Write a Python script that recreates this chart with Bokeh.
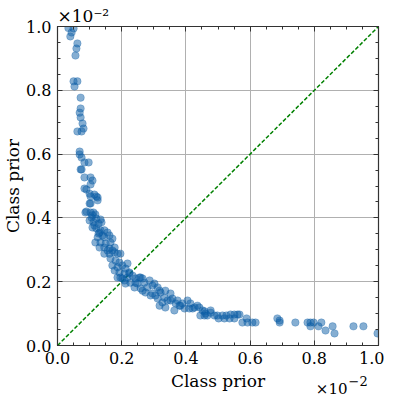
from bokeh.plotting import figure
from bokeh.models import Range1d, LinearAxis, FixedTicker, Label, PrintfTickFormatter
from bokeh.embed import file_html
from bokeh.resources import INLINE

# scatter values (units of 1e-2)
xs = [0.034, 0.044, 0.050, 0.040, 0.062, 0.059, 0.056, 0.050, 0.062, 0.053,
      0.072, 0.072, 0.069, 0.072, 0.078, 0.081, 0.062, 0.075, 0.069, 0.069,
      0.075, 0.084, 0.097, 0.072, 0.075, 0.084, 0.103, 0.109, 0.103, 0.084,
      0.090, 0.100, 0.115, 0.125, 0.103, 0.121, 0.125, 0.103, 0.100, 0.090,
      0.103, 0.112, 0.118, 0.106, 0.121, 0.134, 0.112, 0.128, 0.137, 0.115,
      0.109, 0.121, 0.134, 0.146, 0.156, 0.128, 0.140, 0.162, 0.171, 0.087,
      0.109, 0.100, 0.131, 0.125, 0.146, 0.118, 0.134, 0.150, 0.165, 0.131,
      0.146, 0.162, 0.178, 0.146, 0.162, 0.178, 0.187, 0.165, 0.181, 0.193,
      0.171, 0.187, 0.202, 0.212, 0.178, 0.193, 0.209, 0.224, 0.187, 0.202,
      0.218, 0.234, 0.212, 0.227, 0.243, 0.259, 0.249, 0.271, 0.287, 0.240,
      0.259, 0.280, 0.296, 0.312, 0.274, 0.296, 0.321, 0.336, 0.352, 0.312,
      0.333, 0.352, 0.374, 0.380, 0.396, 0.411, 0.427, 0.389, 0.414, 0.436,
      0.156, 0.171, 0.196, 0.218, 0.224, 0.196, 0.209, 0.255, 0.265, 0.243,
      0.302, 0.265, 0.318, 0.290, 0.305, 0.343, 0.358, 0.318, 0.336, 0.368,
      0.405, 0.364, 0.421, 0.452, 0.461, 0.477, 0.489, 0.327, 0.383, 0.442,
      0.458, 0.458, 0.477, 0.502, 0.514, 0.520, 0.526, 0.539, 0.551, 0.551,
      0.561, 0.567, 0.576, 0.589, 0.592, 0.607, 0.617, 0.685, 0.692, 0.741,
      0.779, 0.788, 0.798, 0.813, 0.822, 0.835, 0.857, 0.863, 0.922, 0.953,
      0.997, 0.498, 0.536, 0.445, 0.467, 0.788, 0.692]
ys = [0.995, 0.981, 0.994, 0.969, 0.947, 0.931, 0.909, 0.828, 0.828, 0.812,
      0.777, 0.743, 0.730, 0.715, 0.696, 0.680, 0.671, 0.671, 0.608, 0.599,
      0.589, 0.574, 0.574, 0.552, 0.552, 0.527, 0.527, 0.517, 0.505, 0.492,
      0.489, 0.476, 0.473, 0.464, 0.467, 0.467, 0.455, 0.445, 0.445, 0.420,
      0.417, 0.417, 0.411, 0.401, 0.398, 0.395, 0.386, 0.382, 0.386, 0.376,
      0.370, 0.367, 0.361, 0.361, 0.354, 0.351, 0.345, 0.345, 0.335, 0.417,
      0.408, 0.392, 0.354, 0.339, 0.339, 0.323, 0.323, 0.320, 0.323, 0.307,
      0.307, 0.304, 0.307, 0.288, 0.288, 0.292, 0.288, 0.273, 0.266, 0.260,
      0.251, 0.245, 0.251, 0.241, 0.235, 0.229, 0.226, 0.229, 0.213, 0.210,
      0.213, 0.219, 0.194, 0.197, 0.210, 0.213, 0.194, 0.197, 0.204, 0.182,
      0.179, 0.182, 0.188, 0.182, 0.166, 0.163, 0.166, 0.172, 0.163, 0.147,
      0.150, 0.141, 0.141, 0.125, 0.116, 0.116, 0.119, 0.132, 0.132, 0.125,
      0.298, 0.298, 0.288, 0.257, 0.226, 0.213, 0.204, 0.213, 0.210, 0.197,
      0.194, 0.172, 0.172, 0.157, 0.157, 0.141, 0.147, 0.125, 0.119, 0.132,
      0.141, 0.110, 0.116, 0.110, 0.100, 0.103, 0.094, 0.135, 0.125, 0.119,
      0.107, 0.094, 0.110, 0.085, 0.094, 0.085, 0.094, 0.097, 0.097, 0.085,
      0.097, 0.097, 0.072, 0.085, 0.072, 0.072, 0.072, 0.085, 0.072, 0.072,
      0.072, 0.060, 0.072, 0.060, 0.072, 0.047, 0.060, 0.038, 0.060, 0.060,
      0.038, 0.094, 0.085, 0.094, 0.094, 0.072, 0.078]

diag_x = [0.0, 1.0]
diag_y = [0.0, 1.0]
tick_vals = [0.0, 0.2, 0.4, 0.6, 0.8, 1.0]
offset_text = "×10⁻²"

FONT = "DejaVu Serif"
AX = "#333333"

p = figure(frame_width=321, frame_height=319, output_backend="svg",
           toolbar_location=None,
           x_range=Range1d(0, 1), y_range=Range1d(0, 1),
           min_border_left=52, min_border_right=6, min_border_top=26,
           min_border_bottom=50)
p.outline_line_color = AX
p.outline_line_width = 1.2

p.line(diag_x, diag_y, line_color="#008000", line_width=1.5, line_dash="4 2")
p.scatter(xs, ys, size=7.5, fill_color="#0C5DA5", fill_alpha=0.5,
          line_color="#0C5DA5", line_alpha=0.5, line_width=0.5)

for g in (p.xgrid[0], p.ygrid[0]):
    g.ticker = FixedTicker(ticks=tick_vals)
    g.grid_line_color = "#b0b0b0"
    g.grid_line_width = 1

def style(ax, labels=True):
    ax.ticker = FixedTicker(ticks=tick_vals,
                            minor_ticks=[i * 0.05 for i in range(21)])
    ax.major_tick_in = 5
    ax.major_tick_out = 0
    ax.minor_tick_in = 3
    ax.minor_tick_out = 0
    ax.axis_line_color = AX
    ax.major_tick_line_color = AX
    ax.minor_tick_line_color = AX
    ax.major_tick_line_width = 1
    ax.minor_tick_line_width = 1
    ax.formatter = PrintfTickFormatter(format="%.1f")
    ax.major_label_text_font = FONT
    ax.major_label_text_font_size = "16px"
    ax.major_label_text_color = "black"
    ax.axis_label_text_font = FONT
    ax.axis_label_text_font_size = "17px"
    ax.axis_label_text_font_style = "normal"
    ax.axis_label_text_color = "black"
    if not labels:
        ax.major_label_overrides = {v: "" for v in tick_vals}
        ax.major_label_standoff = 0
        ax.major_label_text_font_size = "1px"

style(p.xaxis[0])
style(p.yaxis[0])
p.xaxis[0].axis_label = "Class prior"
p.yaxis[0].axis_label = "Class prior"
p.xaxis[0].major_label_standoff = 6
p.yaxis[0].major_label_standoff = 6
p.xaxis[0].axis_label_standoff = 4
p.yaxis[0].axis_label_standoff = 0

ra = LinearAxis()
ta = LinearAxis()
style(ra, labels=False)
style(ta, labels=False)
p.add_layout(ra, "right")
p.add_layout(ta, "above")

# top-left offset text
p.title.text = offset_text
p.title.align = "left"
p.title.text_font = FONT
p.title.text_font_size = "17px"
p.title.text_font_style = "normal"
p.title.text_color = "black"
p.title.standoff = 1
p.title.offset = 0

# bottom-right offset text (placed in the bottom panel so it is not clipped)
p.add_layout(Label(x=1.0, y=0.0, x_offset=-31, y_offset=-43, text="×10",
                   text_font=FONT, text_font_size="15px", text_align="right",
                   text_baseline="alphabetic", text_color="black"), "below")
p.add_layout(Label(x=1.0, y=0.0, x_offset=-30, y_offset=-35, text="−2",
                   text_font=FONT, text_font_size="13px", text_align="left",
                   text_baseline="alphabetic", text_color="black"), "below")

open("out.html", "w").write(file_html(p, INLINE))
